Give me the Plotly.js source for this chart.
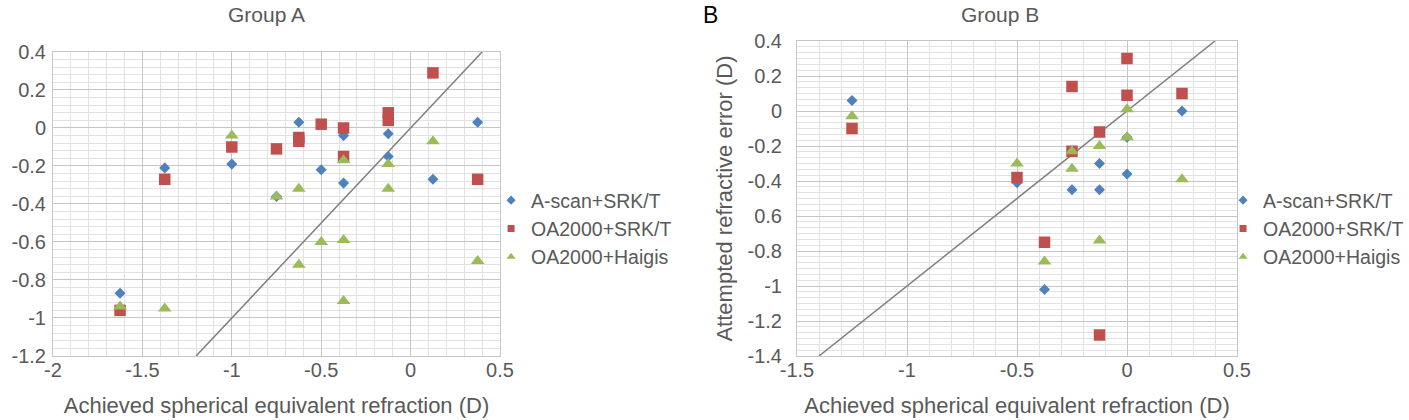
<!DOCTYPE html>
<html>
<head>
<meta charset="utf-8">
<script src="https://cdn.plot.ly/plotly-3.0.1.min.js"></script>
<style>html,body{margin:0;padding:0;background:#fff;}#chart{width:1409px;height:420px;}</style>
</head>
<body>
<div id="chart"></div>
<script>
// ---------- data ----------
const seriesNames = ['A-scan+SRK/T', 'OA2000+SRK/T', 'OA2000+Haigis'];

// Group A
const A_x_ascan = [-1.625, -1.375, -1, -0.75, -0.625, -0.5, -0.375, -0.375, -0.125, -0.125, 0.125, 0.375];
const A_y_ascan = [-0.87, -0.21, -0.19, -0.36, 0.03, -0.22, -0.04, -0.29, -0.03, -0.15, -0.27, 0.03];
const A_x_oasrk = [-1.625, -1.375, -1, -0.75, -0.625, -0.625, -0.5, -0.375, -0.375, -0.125, -0.125, 0.125, 0.375];
const A_y_oasrk = [-0.96, -0.27, -0.10, -0.11, -0.05, -0.07, 0.02, 0.00, -0.15, 0.08, 0.04, 0.29, -0.27];
const A_x_haigis = [-1.625, -1.375, -1, -0.75, -0.625, -0.625, -0.5, -0.375, -0.375, -0.375, -0.125, -0.125, 0.125, 0.375];
const A_y_haigis = [-0.94, -0.95, -0.04, -0.36, -0.32, -0.72, -0.60, -0.17, -0.59, -0.91, -0.19, -0.32, -0.07, -0.70];
const A_line_x = [-1.2, 0.4];
const A_line_y = [-1.2, 0.4];

// Group B
const B_x_ascan = [-1.25, -0.5, -0.375, -0.25, -0.125, -0.125, 0, 0, 0.25];
const B_y_ascan = [0.06, -0.41, -1.02, -0.45, -0.30, -0.45, -0.36, -0.15, 0.0];
const B_x_oasrk = [-1.25, -0.5, -0.375, -0.25, -0.25, -0.125, -0.125, 0, 0, 0.25];
const B_y_oasrk = [-0.10, -0.38, -0.75, 0.14, -0.23, -0.12, -1.28, 0.30, 0.09, 0.10];
const B_x_haigis = [-1.25, -0.5, -0.375, -0.25, -0.25, -0.125, -0.125, 0, 0, 0.25];
const B_y_haigis = [-0.03, -0.30, -0.86, -0.23, -0.33, -0.20, -0.74, 0.01, -0.15, -0.39];
const B_line_x = [-1.4, 0.4];
const B_line_y = [-1.4, 0.4];

// tick labels
const A_xtickvals = [-2, -1.5, -1, -0.5, 0, 0.5];
const A_xticktext = ['-2', '-1.5', '-1', '-0.5', '0', '0.5'];
const A_ytickvals = [0.4, 0.2, 0, -0.2, -0.4, -0.6, -0.8, -1, -1.2];
const A_yticktext = ['0.4', '0.2', '0', '-0.2', '-0.4', '-0.6', '-0.8', '-1', '-1.2'];
const B_xtickvals = [-1.5, -1, -0.5, 0, 0.5];
const B_xticktext = ['-1.5', '-1', '-0.5', '0', '0.5'];
const B_ytickvals = [0.4, 0.2, 0, -0.2, -0.4, -0.6, -0.8, -1, -1.2, -1.4];
const B_yticktext = ['0.4', '0.2', '0', '-0.2', '-0.4', '0.6', '-0.8', '-1', '-1.2', '-1.4'];

// ---------- styles ----------
const colors = ['#4f81bd', '#c0504d', '#9bbb59'];
const symbols = ['diamond', 'square', 'triangle-up'];
const sizes = [8.5, 11.5, 12];
const legendSizes = [7, 7, 8];
const majorGrid = '#c6c6c6';
const minorGrid = '#e2e2e2';
const textColor = '#595959';
const fontFamily = '"Liberation Sans", Arial, sans-serif';

function pts(x, y, i, xa, ya) {
  return {
    type: 'scatter', mode: 'markers', x: x, y: y, xaxis: xa, yaxis: ya,
    name: seriesNames[i], showlegend: false, hoverinfo: 'x+y',
    marker: {symbol: symbols[i], color: colors[i], size: sizes[i], line: {width: 0}}
  };
}
function legendItem(i, xa, ya, leg) {
  return {
    type: 'scatter', mode: 'markers', x: [null], y: [null], xaxis: xa, yaxis: ya,
    name: seriesNames[i], legend: leg, showlegend: true,
    marker: {symbol: symbols[i], color: colors[i], size: legendSizes[i], line: {width: 0}}
  };
}
function diag(x, y, xa, ya) {
  return {type: 'scatter', mode: 'lines', x: x, y: y, xaxis: xa, yaxis: ya,
    showlegend: false, hoverinfo: 'skip', line: {color: '#7f7f7f', width: 1.5}};
}

const data = [
  diag(A_line_x, A_line_y, 'x', 'y'),
  pts(A_x_ascan, A_y_ascan, 0, 'x', 'y'),
  pts(A_x_oasrk, A_y_oasrk, 1, 'x', 'y'),
  pts(A_x_haigis, A_y_haigis, 2, 'x', 'y'),
  legendItem(0, 'x', 'y', 'legend'),
  legendItem(1, 'x', 'y', 'legend'),
  legendItem(2, 'x', 'y', 'legend'),
  diag(B_line_x, B_line_y, 'x2', 'y2'),
  pts(B_x_ascan, B_y_ascan, 0, 'x2', 'y2'),
  pts(B_x_oasrk, B_y_oasrk, 1, 'x2', 'y2'),
  pts(B_x_haigis, B_y_haigis, 2, 'x2', 'y2'),
  legendItem(0, 'x2', 'y2', 'legend2'),
  legendItem(1, 'x2', 'y2', 'legend2'),
  legendItem(2, 'x2', 'y2', 'legend2')
];

function axisBase(range, tv, tt, minorTick0, minorDtick) {
  return {
    range: range, tickmode: 'array', tickvals: tv, ticktext: tt,
    showgrid: true, gridcolor: majorGrid, gridwidth: 1,
    zeroline: false, showline: true, linecolor: majorGrid, linewidth: 1, mirror: true,
    ticks: '', tickfont: {size: 20, color: textColor, family: fontFamily},
    minor: {tickmode: 'linear', tick0: minorTick0, dtick: minorDtick, showgrid: true, gridcolor: minorGrid, gridwidth: 1, ticks: ''},
    fixedrange: true, automargin: false
  };
}

const xA = Object.assign(axisBase([-2, 0.5], A_xtickvals, A_xticktext, -2, 0.1), {
  domain: [0, 0.37753], anchor: 'y', ticklabelstandoff: -4,
  title: {text: 'Achieved spherical equivalent refraction (D)', font: {size: 22, color: textColor, family: fontFamily}, standoff: 17}
});
const yA = Object.assign(axisBase([-1.2, 0.4], A_ytickvals, A_yticktext, -1.2, 0.04), {
  domain: [0, 0.96508], anchor: 'x', ticklabelstandoff: 2
});
const xB = Object.assign(axisBase([-1.5, 0.5], B_xtickvals, B_xticktext, -1.5, 0.1), {
  domain: [0.62838, 1], anchor: 'y2', ticklabelstandoff: -4,
  title: {text: 'Achieved spherical equivalent refraction (D)', font: {size: 22, color: textColor, family: fontFamily}, standoff: 17}
});
const yB = Object.assign(axisBase([-1.4, 0.4], B_ytickvals, B_yticktext, -1.4, 0.2 / 6), {
  domain: [0, 1], anchor: 'x2', ticklabelstandoff: 10,
  title: {text: 'Attempted refractive error (D)', font: {size: 22, color: textColor, family: fontFamily}, standoff: 8}
});

const legendStyle = {
  yanchor: 'middle', bgcolor: 'rgba(0,0,0,0)', borderwidth: 0,
  font: {size: 19.5, color: textColor, family: fontFamily}, tracegroupgap: 0, itemclick: false, itemdoubleclick: false
};

const layout = {
  width: 1409, height: 420,
  margin: {l: 53, r: 172, t: 41, b: 64, pad: 0, autoexpand: false},
  paper_bgcolor: '#ffffff', plot_bgcolor: '#ffffff',
  font: {family: fontFamily, color: textColor, size: 20},
  xaxis: xA, yaxis: yA, xaxis2: xB, yaxis2: yB,
  legend: Object.assign({x: 0.3700, xanchor: 'left', y: 0.4032}, legendStyle),
  legend2: Object.assign({x: 1.1453, xanchor: 'right', y: 0.4032}, legendStyle),
  hovermode: 'closest',
  annotations: [
    {text: 'Group A', xref: 'paper', yref: 'paper', x: 0.18074, y: 1.08254, xanchor: 'center', yanchor: 'middle', showarrow: false, font: {size: 21, color: textColor, family: fontFamily}},
    {text: 'Group B', xref: 'paper', yref: 'paper', x: 0.7998, y: 1.08254, xanchor: 'center', yanchor: 'middle', showarrow: false, font: {size: 21, color: textColor, family: fontFamily}},
    {text: 'B', xref: 'paper', yref: 'paper', x: 0.5549, y: 1.08254, xanchor: 'center', yanchor: 'middle', showarrow: false, font: {size: 23, color: '#000000', family: fontFamily}}
  ]
};

Plotly.newPlot('chart', data, layout, {displayModeBar: false, responsive: false});
</script>
</body>
</html>
